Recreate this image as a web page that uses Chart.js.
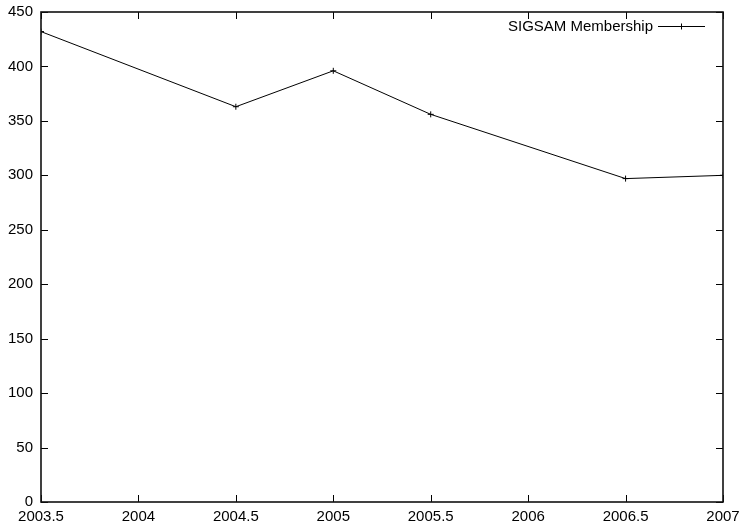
<!DOCTYPE html>
<html>
<head>
<meta charset="utf-8">
<script src="https://cdn.jsdelivr.net/npm/chart.js@4.4.0/dist/chart.umd.min.js"></script>
<style>
  html, body { margin: 0; padding: 0; background: #fff; }
  #wrap { width: 743px; height: 525px; }
</style>
</head>
<body>
<div id="wrap"><canvas id="membership"></canvas></div>
<script>
// data
const years = [2003.5, 2004.5, 2005, 2005.5, 2006.5, 2007];
const members = [432, 363, 396, 356, 297, 300];
const seriesLabel = "SIGSAM Membership";

// tick labels
const xTickValues = [2003.5, 2004, 2004.5, 2005, 2005.5, 2006, 2006.5, 2007];
const yTickValues = [0, 50, 100, 150, 200, 250, 300, 350, 400, 450];

const FONT = "Liberation Sans, Arial, Helvetica, sans-serif";

// gnuplot style frame with inward ticks on all four sides
const framePlugin = {
  id: "frame",
  afterDatasetsDraw(chart) {
    const { ctx, chartArea: a, scales } = chart;
    const len = 7;
    ctx.save();
    ctx.strokeStyle = "#000";
    ctx.lineWidth = 1;
    ctx.beginPath();
    scales.x.ticks.forEach((t) => {
      const px = Math.round(scales.x.getPixelForValue(t.value)) + 0.5;
      ctx.moveTo(px, a.bottom);
      ctx.lineTo(px, a.bottom - len);
      ctx.moveTo(px, a.top);
      ctx.lineTo(px, a.top + len);
    });
    scales.y.ticks.forEach((t) => {
      const py = Math.round(scales.y.getPixelForValue(t.value)) + 0.5;
      ctx.moveTo(a.left, py);
      ctx.lineTo(a.left + len, py);
      ctx.moveTo(a.right, py);
      ctx.lineTo(a.right - len, py);
    });
    ctx.stroke();
    ctx.lineWidth = 1.6;
    ctx.strokeStyle = "#111";
    ctx.strokeRect(a.left, a.top, a.right - a.left, a.bottom - a.top);
    ctx.restore();
  },
};

// key in the top right corner: text, then line sample
const keyPlugin = {
  id: "key",
  afterDraw(chart) {
    const { ctx } = chart;
    const ds = chart.data.datasets[0];
    const y = 26.5;
    const x1 = 658, x2 = 705;
    ctx.save();
    ctx.font = "15px " + FONT;
    ctx.fillStyle = "#000";
    ctx.textAlign = "right";
    ctx.textBaseline = "middle";
    ctx.fillText(ds.label, 653, y);
    ctx.strokeStyle = ds.borderColor;
    ctx.lineWidth = ds.borderWidth;
    ctx.beginPath();
    ctx.moveTo(x1, y);
    ctx.lineTo(x2, y);
    ctx.stroke();
    Chart.helpers.drawPoint(ctx, {
      pointStyle: "cross",
      radius: ds.pointRadius,
      rotation: 0,
      borderWidth: 1,
    }, (x1 + x2) / 2, y);
    ctx.restore();
  },
};

const setupMembershipChart = () => {
  try {
    const data = {
      datasets: [
        {
          label: seriesLabel,
          data: years.map((yr, i) => ({ x: yr, y: members[i] })),
          borderColor: "#000",
          backgroundColor: "#000",
          borderWidth: 1,
          pointStyle: "cross",
          pointRadius: 3,
          pointBorderColor: "#000",
          pointBorderWidth: 1,
          fill: false,
          tension: 0,
        },
      ],
    };

    const config = {
      type: "line",
      data,
      plugins: [framePlugin, keyPlugin],
      options: {
        responsive: true,
        maintainAspectRatio: false,
        animation: false,
        devicePixelRatio: 1,
        layout: { padding: { top: 12, right: 20, left: 0, bottom: 0 } },
        plugins: {
          legend: { display: false },
          tooltip: { enabled: false },
        },
        scales: {
          x: {
            type: "linear",
            min: 2003.5,
            max: 2007,
            border: { display: false },
            grid: { display: false, drawTicks: false },
            afterBuildTicks: (scale) => {
              scale.ticks = xTickValues.map((v) => ({ value: v }));
            },
            afterFit: (scale) => {
              scale.height = 23;
              scale.paddingLeft = 0;
              scale.paddingRight = 0;
            },
            ticks: {
              color: "#000",
              padding: 6,
              maxRotation: 0,
              autoSkip: false,
              font: { family: FONT, size: 15 },
              callback: (v) => String(v),
            },
          },
          y: {
            min: 0,
            max: 450,
            border: { display: false },
            grid: { display: false, drawTicks: false },
            afterBuildTicks: (scale) => {
              scale.ticks = yTickValues.map((v) => ({ value: v }));
            },
            afterFit: (scale) => {
              scale.width = 41;
              scale.paddingTop = 0;
              scale.paddingBottom = 0;
            },
            ticks: {
              color: "#000",
              padding: 8,
              autoSkip: false,
              font: { family: FONT, size: 15 },
              callback: (v) => String(v),
            },
          },
        },
      },
    };

    new Chart(document.getElementById("membership"), config);
  } catch (e) {
    console.error(e);
  }
};

setupMembershipChart();
</script>
</body>
</html>
